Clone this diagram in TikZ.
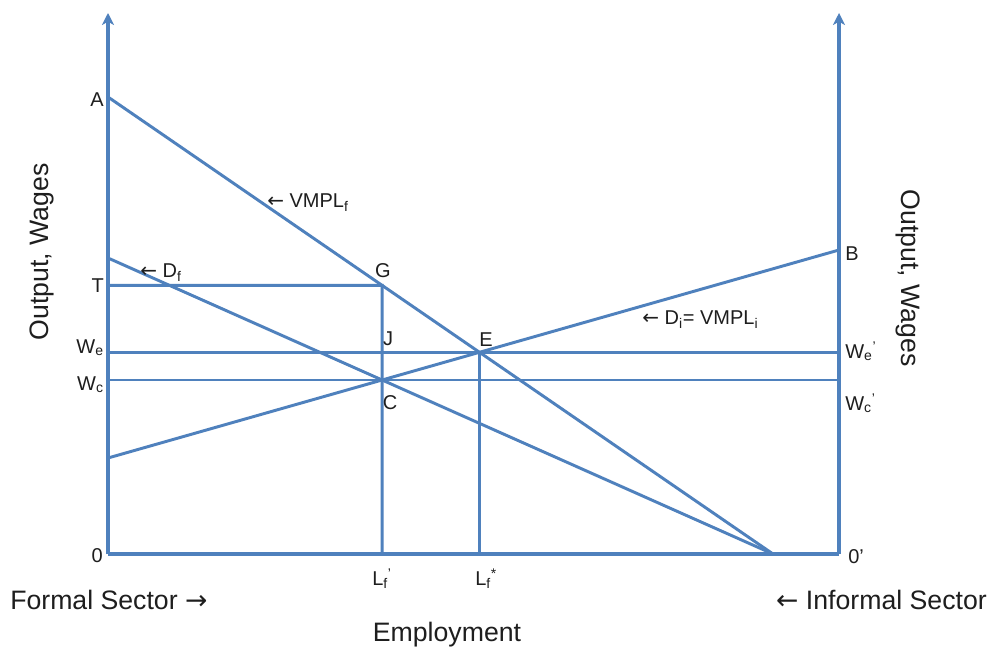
\documentclass[tikz,border=0pt]{standalone}
\usepackage{fontspec}
\setmainfont{Liberation Sans}
\newfontfamily\arrowfont{DejaVu Sans}
\usetikzlibrary{arrows.meta}
\definecolor{lineblue}{RGB}{79,129,189}
\definecolor{txt}{RGB}{30,30,30}
\newcommand{\larr}{{\arrowfont ←}}
\newcommand{\rarr}{{\arrowfont →}}
\begin{document}
\begin{tikzpicture}[x=0.75pt,y=-0.75pt,
  curve/.style={draw=lineblue,line width=2.2pt},
  axisline/.style={draw=lineblue,line width=2.4pt},
  axistip/.style={-{Stealth[length=9pt,width=9pt,inset=2.5pt]}},
  lbl/.style={font=\fontsize{15}{18}\selectfont,inner sep=0pt,text=txt},
  big/.style={font=\fontsize{20}{24}\selectfont,inner sep=0pt,text=txt}]
\useasboundingbox[fill=white] (0,0) rectangle (991,648);
% key points
\coordinate (O) at (108,554);
\coordinate (Op) at (839,554);
\coordinate (Otop) at (108,13);
\coordinate (Optop) at (839,13);
\coordinate (A) at (108,97);
\coordinate (B) at (839,250);
\coordinate (X) at (773,554);
\coordinate (Df0) at (108,258);
\coordinate (Di0) at (108,458);
\path (intersection of A--X and Di0--B) coordinate (E);
\path (intersection of Df0--X and Di0--B) coordinate (C);
\coordinate (Cb) at (C |- O);
\coordinate (Eb) at (E |- O);
\path (intersection of A--X and C--Cb) coordinate (G);
\coordinate (T) at (O |- G);
\coordinate (We) at (O |- E);
\coordinate (Wep) at (Op |- E);
\coordinate (Wc) at (O |- C);
\coordinate (Wcp) at (Op |- C);
% axes
\draw[axisline] (O) -- (Op);
\draw[axisline,axistip] (O) -- (Otop);
\draw[axisline,axistip] (Op) -- (Optop);
% curves
\draw[curve] (A) -- (X);
\draw[curve] (Df0) -- (X);
\draw[curve] (Di0) -- (B);
\draw[curve] (T) -- (G) -- (Cb);
\draw[curve] (We) -- (Wep);
\draw[curve] (Wc) -- (Wcp);
\draw[curve] (E) -- (Eb);
% labels
\node[lbl,anchor=base east] (lA) at (104,107) {A};
\node[lbl,anchor=base east] (lT) at (104,293) {T};
\node[lbl,anchor=base east] (lWe) at (104,353) {W\textsubscript{e}};
\node[lbl,anchor=base east] (lWc) at (104,390) {W\textsubscript{c}};
\node[lbl,anchor=base east] (l0) at (103,562) {0};
\node[lbl,anchor=base] (lG) at (383,278) {G};
\node[lbl,anchor=base] (lJ) at (388,345) {J};
\node[lbl,anchor=base] (lE) at (486,346) {E};
\node[lbl,anchor=base] (lC) at (390,409) {C};
\node[lbl,anchor=base west] (lB) at (845,261) {B};
\node[lbl,anchor=base west] (lWep) at (845,358) {W\textsubscript{e}\textsuperscript{'}};
\node[lbl,anchor=base west] (lWcp) at (845,410) {W\textsubscript{c}\textsuperscript{'}};
\node[lbl,anchor=base west] (l0p) at (848,563) {0'};
\node[lbl,anchor=base west] (lLf) at (372,585) {L\textsubscript{f}\textsuperscript{'}};
\node[lbl,anchor=base west] (lLfs) at (475,585) {L\textsubscript{f}\textsuperscript{*}};
\node[lbl,anchor=base west] (lVMPLf) at (267,208) {\larr{} VMPL\textsubscript{f}};
\node[lbl,anchor=base west] (lDf) at (140,278) {\larr{} D\textsubscript{f}};
\node[lbl,anchor=base west] (lDi) at (642,325) {\larr{} D\textsubscript{i}= VMPL\textsubscript{i}};
\node[big,anchor=base west] (lFormal) at (10,609) {Formal Sector \rarr};
\node[big,anchor=base east] (lInformal) at (987,609) {\larr{} Informal Sector};
\node[big,anchor=base] (lEmp) at (447,641) {Employment};
\node[big,rotate=90] (lOutL) at (42,252) {Output, Wages};
\node[big,rotate=-90] (lOutR) at (908,278) {Output, Wages};
\end{tikzpicture}
\end{document}
